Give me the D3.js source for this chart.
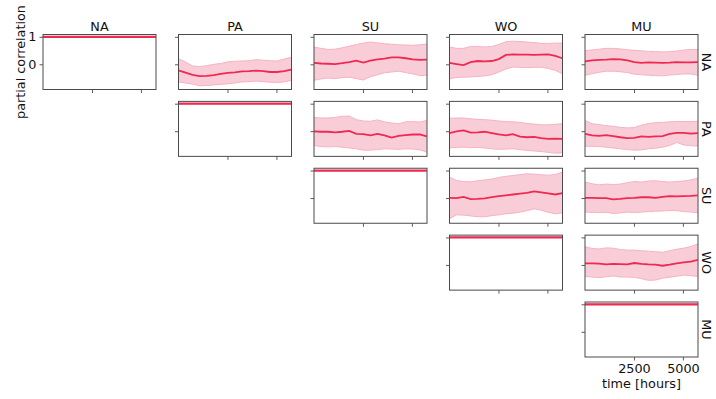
<!DOCTYPE html>
<html>
<head>
<meta charset="utf-8">
<script src="https://cdn.jsdelivr.net/npm/d3@7"></script>
<style>
  body { margin: 0; background: #fff; }
  svg { display: block; }
  text { font-family: "DejaVu Sans", sans-serif; fill: #111; }
</style>
</head>
<body>
<svg id="chart" width="716" height="399"></svg>
<script>
// Regions compared pairwise (upper triangle of the grid)
const regions = ["NA", "PA", "SU", "WO", "MU"];

// Sampling times of the rolling partial correlation (hours)
const timeHours = [0, 360, 720, 1080, 1440, 1800, 2160, 2520, 2880, 3240, 3600, 3960, 4320, 4680, 5040, 5400, 5760];
const timeDomain = [0, 5770];
const timeTicks = [2500, 5000];
const corrTicks = [0, 1];
const corrDomain = [-0.916, 1.084];

// Self-correlation on the diagonal
const selfCorr = [1, 1, 1, 1, 1, 1, 1, 1, 1, 1, 1, 1, 1, 1, 1, 1, 1];

// NA vs PA
const meanNA_PA = [-0.22, -0.30, -0.38, -0.43, -0.42, -0.39, -0.35, -0.31, -0.29, -0.26, -0.25, -0.23, -0.25, -0.28, -0.28, -0.25, -0.19];
const highNA_PA = [0.20, 0.08, -0.06, -0.08, -0.05, 0.00, 0.03, 0.09, 0.11, 0.12, 0.13, 0.17, 0.15, 0.13, 0.12, 0.19, 0.26];
const lowNA_PA  = [-0.64, -0.68, -0.72, -0.78, -0.77, -0.75, -0.73, -0.71, -0.68, -0.64, -0.63, -0.61, -0.63, -0.65, -0.66, -0.64, -0.58];

// NA vs SU
const meanNA_SU = [0.05, 0.03, 0.02, 0.01, 0.04, 0.08, 0.13, 0.06, 0.13, 0.18, 0.21, 0.25, 0.25, 0.22, 0.18, 0.16, 0.17];
const highNA_SU = [0.63, 0.58, 0.54, 0.55, 0.60, 0.66, 0.72, 0.77, 0.81, 0.78, 0.75, 0.73, 0.71, 0.70, 0.69, 0.71, 0.74];
const lowNA_SU  = [-0.58, -0.53, -0.50, -0.52, -0.48, -0.47, -0.52, -0.57, -0.45, -0.38, -0.31, -0.28, -0.25, -0.30, -0.35, -0.41, -0.40];

// NA vs WO
const meanNA_WO = [0.05, 0.01, -0.03, 0.08, 0.12, 0.11, 0.12, 0.19, 0.34, 0.36, 0.35, 0.35, 0.34, 0.35, 0.36, 0.31, 0.22];
const highNA_WO = [0.63, 0.58, 0.58, 0.65, 0.65, 0.63, 0.65, 0.72, 0.82, 0.84, 0.83, 0.81, 0.79, 0.76, 0.76, 0.77, 0.77];
const lowNA_WO  = [-0.52, -0.48, -0.47, -0.46, -0.44, -0.42, -0.38, -0.28, -0.17, -0.10, -0.11, -0.12, -0.11, -0.11, -0.15, -0.22, -0.34];

// NA vs MU
const meanNA_MU = [0.11, 0.14, 0.16, 0.17, 0.19, 0.18, 0.14, 0.08, 0.05, 0.07, 0.06, 0.05, 0.06, 0.08, 0.07, 0.07, 0.08];
const highNA_MU = [0.50, 0.52, 0.55, 0.58, 0.58, 0.56, 0.53, 0.51, 0.49, 0.47, 0.46, 0.45, 0.46, 0.48, 0.52, 0.54, 0.54];
const lowNA_MU  = [-0.40, -0.34, -0.29, -0.25, -0.25, -0.27, -0.30, -0.36, -0.38, -0.40, -0.41, -0.42, -0.39, -0.37, -0.35, -0.35, -0.40];

// PA vs SU
const meanPA_SU = [-0.01, -0.02, -0.02, -0.04, -0.02, 0.01, -0.10, -0.11, -0.15, -0.10, -0.15, -0.23, -0.17, -0.14, -0.12, -0.12, -0.19];
const highPA_SU = [0.50, 0.48, 0.48, 0.50, 0.54, 0.55, 0.42, 0.37, 0.36, 0.41, 0.34, 0.30, 0.27, 0.34, 0.35, 0.33, 0.39];
const lowPA_SU  = [-0.52, -0.56, -0.57, -0.56, -0.58, -0.61, -0.64, -0.69, -0.69, -0.67, -0.64, -0.65, -0.66, -0.64, -0.65, -0.68, -0.76];

// PA vs WO
const meanPA_WO = [-0.07, -0.01, 0.03, -0.05, -0.04, -0.02, -0.07, -0.12, -0.15, -0.11, -0.20, -0.22, -0.21, -0.25, -0.28, -0.27, -0.28];
const highPA_WO = [0.47, 0.48, 0.48, 0.45, 0.43, 0.42, 0.40, 0.37, 0.35, 0.34, 0.32, 0.28, 0.26, 0.23, 0.23, 0.25, 0.27];
const lowPA_WO  = [-0.61, -0.59, -0.58, -0.60, -0.59, -0.61, -0.64, -0.66, -0.65, -0.64, -0.67, -0.70, -0.72, -0.74, -0.77, -0.80, -0.79];

// PA vs MU
const meanPA_MU = [-0.10, -0.15, -0.17, -0.14, -0.18, -0.22, -0.25, -0.24, -0.19, -0.21, -0.19, -0.18, -0.10, -0.06, -0.06, -0.09, -0.07];
const highPA_MU = [0.39, 0.27, 0.24, 0.20, 0.18, 0.14, 0.12, 0.13, 0.22, 0.28, 0.31, 0.32, 0.34, 0.35, 0.35, 0.35, 0.36];
const lowPA_MU  = [-0.55, -0.55, -0.56, -0.58, -0.61, -0.64, -0.67, -0.69, -0.68, -0.64, -0.62, -0.58, -0.52, -0.41, -0.50, -0.53, -0.54];

// SU vs WO
const meanSU_WO = [0.01, 0.00, 0.04, -0.04, -0.03, -0.01, 0.03, 0.07, 0.10, 0.13, 0.16, 0.19, 0.24, 0.21, 0.17, 0.13, 0.18];
const highSU_WO = [0.76, 0.64, 0.60, 0.59, 0.63, 0.66, 0.69, 0.75, 0.79, 0.82, 0.85, 0.88, 0.87, 0.85, 0.83, 0.86, 0.94];
const lowSU_WO  = [-0.75, -0.61, -0.62, -0.65, -0.68, -0.68, -0.64, -0.61, -0.57, -0.55, -0.51, -0.46, -0.39, -0.44, -0.52, -0.57, -0.54];

// SU vs MU
const meanSU_MU = [0.01, 0.01, 0.00, 0.00, -0.05, -0.03, 0.00, 0.01, 0.03, 0.03, 0.01, 0.04, 0.07, 0.06, 0.07, 0.08, 0.10];
const highSU_MU = [0.58, 0.52, 0.48, 0.51, 0.49, 0.51, 0.56, 0.60, 0.58, 0.62, 0.63, 0.60, 0.58, 0.60, 0.62, 0.66, 0.72];
const lowSU_MU  = [-0.51, -0.52, -0.53, -0.52, -0.56, -0.54, -0.51, -0.53, -0.51, -0.49, -0.48, -0.47, -0.45, -0.46, -0.49, -0.51, -0.53];

// WO vs MU
const meanWO_MU = [0.06, 0.06, 0.05, 0.02, 0.04, 0.03, 0.02, 0.07, 0.04, 0.02, 0.01, -0.03, 0.01, 0.06, 0.09, 0.12, 0.18];
const highWO_MU = [0.66, 0.60, 0.58, 0.62, 0.61, 0.56, 0.54, 0.54, 0.52, 0.50, 0.48, 0.46, 0.52, 0.57, 0.61, 0.67, 0.76];
const lowWO_MU  = [-0.42, -0.44, -0.46, -0.43, -0.40, -0.44, -0.44, -0.45, -0.50, -0.56, -0.55, -0.48, -0.45, -0.41, -0.37, -0.39, -0.42];

// Panel table: row/column index into regions, series for that pair
const panels = [
  { row: 0, col: 0, mean: selfCorr, low: selfCorr, high: selfCorr },
  { row: 0, col: 1, mean: meanNA_PA, low: lowNA_PA, high: highNA_PA },
  { row: 0, col: 2, mean: meanNA_SU, low: lowNA_SU, high: highNA_SU },
  { row: 0, col: 3, mean: meanNA_WO, low: lowNA_WO, high: highNA_WO },
  { row: 0, col: 4, mean: meanNA_MU, low: lowNA_MU, high: highNA_MU },
  { row: 1, col: 1, mean: selfCorr, low: selfCorr, high: selfCorr },
  { row: 1, col: 2, mean: meanPA_SU, low: lowPA_SU, high: highPA_SU },
  { row: 1, col: 3, mean: meanPA_WO, low: lowPA_WO, high: highPA_WO },
  { row: 1, col: 4, mean: meanPA_MU, low: lowPA_MU, high: highPA_MU },
  { row: 2, col: 2, mean: selfCorr, low: selfCorr, high: selfCorr },
  { row: 2, col: 3, mean: meanSU_WO, low: lowSU_WO, high: highSU_WO },
  { row: 2, col: 4, mean: meanSU_MU, low: lowSU_MU, high: highSU_MU },
  { row: 3, col: 3, mean: selfCorr, low: selfCorr, high: selfCorr },
  { row: 3, col: 4, mean: meanWO_MU, low: lowWO_MU, high: highWO_MU },
  { row: 4, col: 4, mean: selfCorr, low: selfCorr, high: selfCorr }
];

// Layout
const panelW = 113, panelH = 55;
const colX = d3.scaleLinear().domain([0, 4]).range([43, 585]);
const rowY = d3.scaleLinear().domain([0, 4]).range([34.5, 302]);
const fontSize = 12.8;
const lineColor = "#ee2a52";
const bandFill = "#f8cdd8";
const bandEdge = "#f6b2c2";
const frameColor = "#4a4a4a";

const x = d3.scaleLinear().domain(timeDomain).range([0, panelW]);
const y = d3.scaleLinear().domain(corrDomain).range([panelH, 0]);

const svg = d3.select("#chart");

svg.append("defs").append("clipPath").attr("id", "panel-clip")
  .append("rect").attr("width", panelW).attr("height", panelH);

const area = d3.area()
  .x((d, i) => x(timeHours[i]))
  .y0(d => y(d[0]))
  .y1(d => y(d[1]));
const line = d3.line()
  .x((d, i) => x(timeHours[i]))
  .y(d => y(d));

panels.forEach(p => {
  const g = svg.append("g")
    .attr("transform", `translate(${colX(p.col)},${rowY(p.row)})`);
  const isDiag = p.row === p.col;
  const isCorner = p.row === 0 && p.col === 0;
  const isLast = p.row === 4 && p.col === 4;

  const plot = g.append("g").attr("clip-path", "url(#panel-clip)");
  const bandData = p.low.map((v, i) => [v, p.high[i]]);
  plot.append("path").datum(bandData)
    .attr("d", area).attr("fill", bandFill).attr("stroke", "none");
  plot.append("path").datum(p.high)
    .attr("d", line).attr("fill", "none").attr("stroke", bandEdge).attr("stroke-width", 1);
  plot.append("path").datum(p.low)
    .attr("d", line).attr("fill", "none").attr("stroke", bandEdge).attr("stroke-width", 1);
  plot.append("path").datum(p.mean)
    .attr("d", line).attr("fill", "none").attr("stroke", lineColor)
    .attr("stroke-width", isDiag ? 2.2 : 1.8);

  // axes (ticks only; frame drawn separately)
  const xAxis = d3.axisBottom(x).tickValues(timeTicks).tickSize(3.5).tickPadding(3)
    .tickFormat(isLast ? d3.format("d") : () => "");
  const yAxis = d3.axisLeft(y).tickValues(corrTicks).tickSize(3.5).tickPadding(3)
    .tickFormat(isCorner ? d3.format("d") : () => "");

  const gx = g.append("g").attr("transform", `translate(0,${panelH})`).call(xAxis);
  const gy = g.append("g").call(yAxis);
  [gx, gy].forEach(ax => {
    ax.select(".domain").remove();
    ax.selectAll("line").attr("stroke", frameColor).attr("stroke-width", 0.9);
    ax.selectAll("text").style("font-size", fontSize + "px")
      .style("font-family", "DejaVu Sans, sans-serif").attr("fill", "#111");
  });
  gx.selectAll("text").attr("dy", "0.75em");

  g.append("rect").attr("width", panelW).attr("height", panelH)
    .attr("fill", "none").attr("stroke", frameColor).attr("stroke-width", 1);
});

// Column titles
regions.forEach((r, i) => {
  svg.append("text")
    .attr("x", colX(i) + panelW / 2).attr("y", 30.5)
    .attr("text-anchor", "middle").style("font-size", fontSize + "px")
    .text(r);
});

// Row labels on the right, reading downward
regions.forEach((r, i) => {
  const cy = rowY(i) + panelH / 2;
  svg.append("text")
    .attr("transform", `translate(702,${cy}) rotate(90)`)
    .attr("text-anchor", "middle").style("font-size", fontSize + "px")
    .text(r);
});

// Axis titles
svg.append("text")
  .attr("transform", `translate(24.5,${rowY(0) + panelH / 2}) rotate(-90)`)
  .attr("text-anchor", "middle").style("font-size", fontSize + "px")
  .text("partial correlation");

svg.append("text")
  .attr("x", colX(4) + panelW / 2).attr("y", 388)
  .attr("text-anchor", "middle").style("font-size", fontSize + "px")
  .text("time [hours]");
</script>
</body>
</html>
